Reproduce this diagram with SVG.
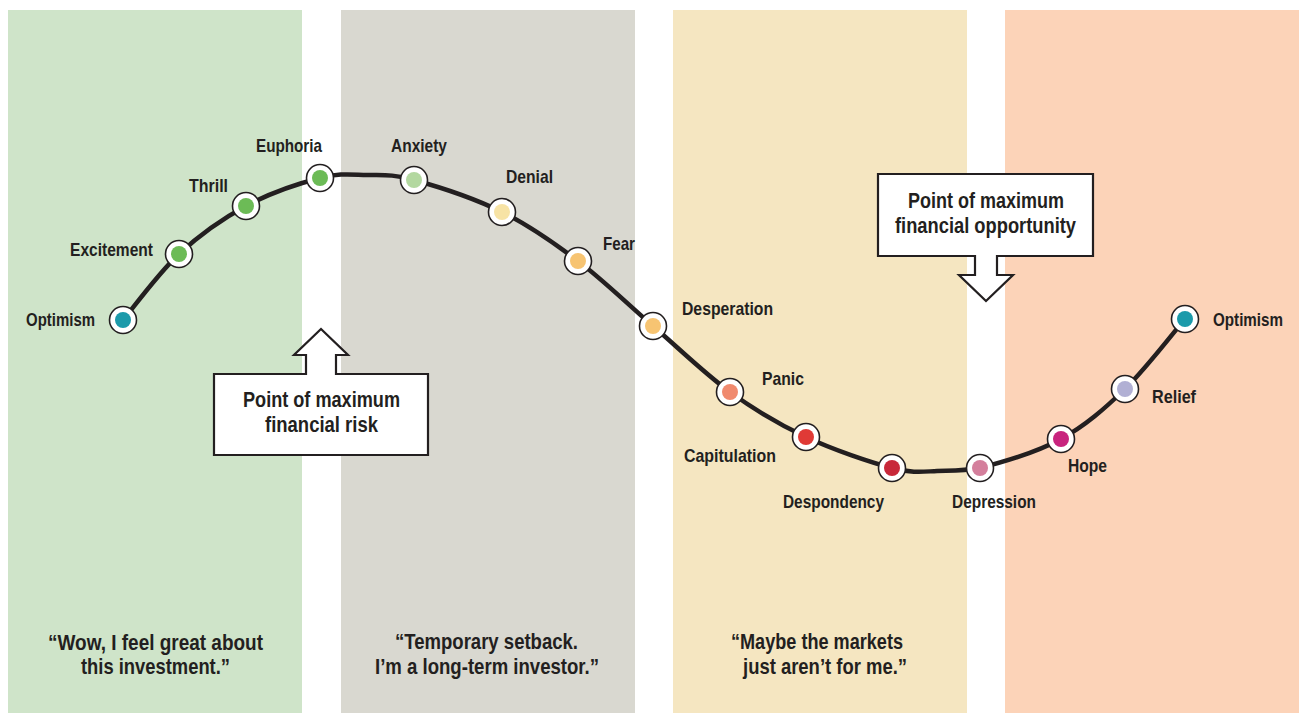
<svg xmlns="http://www.w3.org/2000/svg" width="1299" height="713" viewBox="0 0 1299 713">
<style>
text{font-family:"Liberation Sans",Arial,sans-serif;font-weight:bold;fill:#231f20}
.lbl{font-size:19px}
.call{font-size:21.5px}
.quote{font-size:22px}
.ring{fill:#ffffff;stroke:#231f20;stroke-width:1.6}
.box{fill:#ffffff;stroke:#231f20;stroke-width:2.2;stroke-linejoin:miter}
.curve{fill:none;stroke:#231f20;stroke-width:4.5;stroke-linecap:round}
</style>
<rect width="1299" height="713" fill="#ffffff"/>
<g id="panels">
<rect x="8" y="10" width="294" height="703" fill="#cfe4c9"/>
<rect x="341" y="10" width="294" height="703" fill="#d9d8d0"/>
<rect x="673" y="10" width="294" height="703" fill="#f5e6c1"/>
<rect x="1005" y="10" width="294" height="703" fill="#fcd3b8"/>
</g>
<g id="connectors">
<path class="curve" d="M123,320 C132.3,309 158.5,273 179,254 C199.5,235 222.5,218.7 246,206 C269.5,193.3 299.8,183.2 320,178 C340.2,172.8 351.3,174.7 367,175 C382.7,175.3 391.5,173.8 414,180 C436.5,186.2 474.7,198.5 502,212 C529.3,225.5 552.8,242 578,261 C603.2,280 627.7,304.2 653,326 C678.3,347.8 704.5,373.5 730,392 C755.5,410.5 779,424.3 806,437 C833,449.7 870.3,462.3 892,468 C913.7,473.7 924,471.5 937,471 C952,470.5 962,471 980,468 C1000.8,462.7 1036.8,452.2 1061,439 C1085.2,425.8 1104.3,409 1125,389 C1145.7,369 1175,330.7 1185,319"/>
</g>
<g id="n-optimism1"><circle class="ring" cx="123" cy="320" r="13.5"/><circle cx="123" cy="320" r="8" fill="#1b9aaa"/><text class="lbl" x="26" y="326" textLength="69" lengthAdjust="spacingAndGlyphs">Optimism</text></g>
<g id="n-excitement"><circle class="ring" cx="179" cy="254" r="13.5"/><circle cx="179" cy="254" r="8" fill="#6cbb56"/><text class="lbl" x="70" y="256" textLength="83" lengthAdjust="spacingAndGlyphs">Excitement</text></g>
<g id="n-thrill"><circle class="ring" cx="246" cy="206" r="13.5"/><circle cx="246" cy="206" r="8" fill="#6cbb56"/><text class="lbl" x="189" y="192" textLength="39" lengthAdjust="spacingAndGlyphs">Thrill</text></g>
<g id="n-euphoria"><circle class="ring" cx="320" cy="178" r="13.5"/><circle cx="320" cy="178" r="8" fill="#6cbb56"/><text class="lbl" x="256" y="152" textLength="66" lengthAdjust="spacingAndGlyphs">Euphoria</text></g>
<g id="n-anxiety"><circle class="ring" cx="414" cy="180" r="13.5"/><circle cx="414" cy="180" r="8" fill="#b3d8a0"/><text class="lbl" x="391" y="152" textLength="56" lengthAdjust="spacingAndGlyphs">Anxiety</text></g>
<g id="n-denial"><circle class="ring" cx="502" cy="212" r="13.5"/><circle cx="502" cy="212" r="8" fill="#f7e3a5"/><text class="lbl" x="506" y="183" textLength="47" lengthAdjust="spacingAndGlyphs">Denial</text></g>
<g id="n-fear"><circle class="ring" cx="578" cy="261" r="13.5"/><circle cx="578" cy="261" r="8" fill="#f7c472"/><text class="lbl" x="603" y="250" textLength="32" lengthAdjust="spacingAndGlyphs">Fear</text></g>
<g id="n-desperation"><circle class="ring" cx="653" cy="326" r="13.5"/><circle cx="653" cy="326" r="8" fill="#f7c472"/><text class="lbl" x="682" y="315" textLength="91" lengthAdjust="spacingAndGlyphs">Desperation</text></g>
<g id="n-panic"><circle class="ring" cx="730" cy="392" r="13.5"/><circle cx="730" cy="392" r="8" fill="#f08a6e"/><text class="lbl" x="762" y="385" textLength="42" lengthAdjust="spacingAndGlyphs">Panic</text></g>
<g id="n-capitulation"><circle class="ring" cx="806" cy="437" r="13.5"/><circle cx="806" cy="437" r="8" fill="#e03a36"/><text class="lbl" x="684" y="462" textLength="92" lengthAdjust="spacingAndGlyphs">Capitulation</text></g>
<g id="n-despondency"><circle class="ring" cx="892" cy="468" r="13.5"/><circle cx="892" cy="468" r="8" fill="#c8283a"/><text class="lbl" x="783" y="508" textLength="101" lengthAdjust="spacingAndGlyphs">Despondency</text></g>
<g id="n-depression"><circle class="ring" cx="980" cy="468" r="13.5"/><circle cx="980" cy="468" r="8" fill="#d47f9c"/><text class="lbl" x="952" y="508" textLength="84" lengthAdjust="spacingAndGlyphs">Depression</text></g>
<g id="n-hope"><circle class="ring" cx="1061" cy="439" r="13.5"/><circle cx="1061" cy="439" r="8" fill="#c8247e"/><text class="lbl" x="1068" y="472" textLength="39" lengthAdjust="spacingAndGlyphs">Hope</text></g>
<g id="n-relief"><circle class="ring" cx="1125" cy="389" r="13.5"/><circle cx="1125" cy="389" r="8" fill="#b1b0d4"/><text class="lbl" x="1152" y="403" textLength="44" lengthAdjust="spacingAndGlyphs">Relief</text></g>
<g id="n-optimism2"><circle class="ring" cx="1185" cy="319" r="13.5"/><circle cx="1185" cy="319" r="8" fill="#1b9aaa"/><text class="lbl" x="1213" y="326" textLength="70" lengthAdjust="spacingAndGlyphs">Optimism</text></g>
<g id="callout-risk">
<path class="box" d="M214,374 L306,374 L306,355 L294,355 L321,329 L348,355 L336,355 L336,374 L428,374 L428,455 L214,455 Z"/>
<text class="call" x="243" y="407" textLength="157" lengthAdjust="spacingAndGlyphs">Point of maximum</text>
<text class="call" x="265" y="432" textLength="113" lengthAdjust="spacingAndGlyphs">financial risk</text>
</g>
<g id="callout-opportunity">
<path class="box" d="M878,174 L1093,174 L1093,256 L997,256 L997,275 L1013,275 L986,301 L959,275 L975,275 L975,256 L878,256 Z"/>
<text class="call" x="908" y="208" textLength="156" lengthAdjust="spacingAndGlyphs">Point of maximum</text>
<text class="call" x="895" y="233" textLength="181" lengthAdjust="spacingAndGlyphs">financial opportunity</text>
</g>
<g id="quote-1"><text class="quote" x="48" y="650" textLength="215" lengthAdjust="spacingAndGlyphs">“Wow, I feel great about</text><text class="quote" x="81" y="674" textLength="149" lengthAdjust="spacingAndGlyphs">this investment.”</text></g>
<g id="quote-2"><text class="quote" x="395" y="649" textLength="183" lengthAdjust="spacingAndGlyphs">“Temporary setback.</text><text class="quote" x="375" y="674" textLength="224" lengthAdjust="spacingAndGlyphs">I’m a long-term investor.”</text></g>
<g id="quote-3"><text class="quote" x="731" y="649" textLength="172" lengthAdjust="spacingAndGlyphs">“Maybe the markets</text><text class="quote" x="743" y="674" textLength="164" lengthAdjust="spacingAndGlyphs">just aren’t for me.”</text></g>
</svg>
